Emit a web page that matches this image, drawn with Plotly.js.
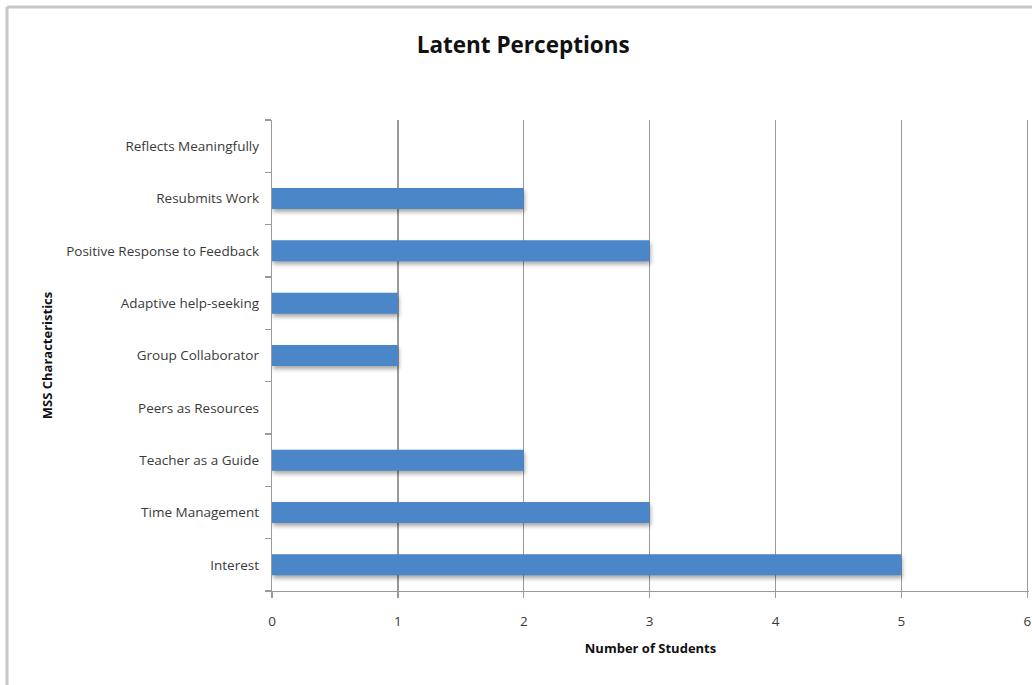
<!DOCTYPE html>
<html>
<head>
<meta charset="utf-8">
<script src="https://cdn.plot.ly/plotly-3.0.1.min.js"></script>
<style>
  html, body { margin: 0; padding: 0; background: #ffffff; }
  #chart { width: 1032px; height: 685px; }
  /* soft drop shadow under the bars */
  #chart .trace.bars .point path { filter: drop-shadow(1px 3px 2px rgba(0,0,0,0.35)); }
</style>
</head>
<body>
<div id="chart"></div>
<script>
// MSS characteristics, listed bottom to top
const categories = [
  "Interest",
  "Time Management",
  "Teacher as a Guide",
  "Peers as Resources",
  "Group Collaborator",
  "Adaptive help-seeking",
  "Positive Response to Feedback",
  "Resubmits Work",
  "Reflects Meaningfully"
];
const studentCounts = [5, 3, 2, 0, 1, 1, 3, 2, 0];
const xTickValues = [0, 1, 2, 3, 4, 5, 6];

const fontFamily = "Open Sans, Noto Sans, sans-serif";
const labelFont = { family: fontFamily, size: 13.5, color: "#3a3a3a" };

const trace = {
  type: "bar",
  orientation: "h",
  x: studentCounts,
  y: categories,
  marker: { color: "#4a86c8", line: { width: 0 } },
  hoverinfo: "x+y"
};

const layout = {
  width: 1032,
  height: 685,
  margin: { l: 272, r: 3, t: 120, b: 94 },
  paper_bgcolor: "#ffffff",
  plot_bgcolor: "#ffffff",
  showlegend: false,
  bargap: 0.6,
  title: {
    text: "<b>Latent Perceptions</b>",
    font: { family: fontFamily, size: 22.5, color: "#111111" },
    x: 0.507, xanchor: "center",
    y: 0.934, yanchor: "middle"
  },
  xaxis: {
    range: [0, 6.014],
    tickvals: xTickValues,
    showgrid: true,
    gridcolor: "#9a9a9a",
    gridwidth: 1.3,
    showline: true,
    linecolor: "#9a9a9a",
    linewidth: 1.3,
    ticks: "outside",
    ticklen: 6,
    tickcolor: "#9a9a9a",
    tickwidth: 1.3,
    ticklabelstandoff: 11,
    ticklabeloverflow: "allow",
    tickfont: labelFont,
    zeroline: false,
    fixedrange: true,
    title: {
      text: "<b>Number of Students</b>",
      font: { family: fontFamily, size: 13, color: "#111111" },
      standoff: 15
    }
  },
  yaxis: {
    type: "category",
    categoryorder: "array",
    categoryarray: categories,
    showgrid: false,
    showline: true,
    linecolor: "#9a9a9a",
    linewidth: 1.3,
    ticks: "outside",
    tickson: "boundaries",
    ticklen: 6,
    tickcolor: "#9a9a9a",
    tickwidth: 1.3,
    ticklabelstandoff: 9,
    tickfont: labelFont,
    fixedrange: true,
    title: {
      text: "<b>MSS Characteristics</b>",
      font: { family: fontFamily, size: 13, color: "#111111" },
      standoff: 10
    }
  },
  shapes: [
    // chart frame: top and left edges
    { type: "line", xref: "paper", yref: "paper", x0: -0.3501, x1: 1.01, y0: 1.2399, y1: 1.2399,
      line: { color: "#c8c8c8", width: 3 } },
    { type: "line", xref: "paper", yref: "paper", x0: -0.3501, x1: -0.3501, y0: 1.2399, y1: -0.2,
      line: { color: "#c8c8c8", width: 3 } }
  ]
};

Plotly.newPlot("chart", [trace], layout, { displayModeBar: false, staticPlot: true });
</script>
</body>
</html>
